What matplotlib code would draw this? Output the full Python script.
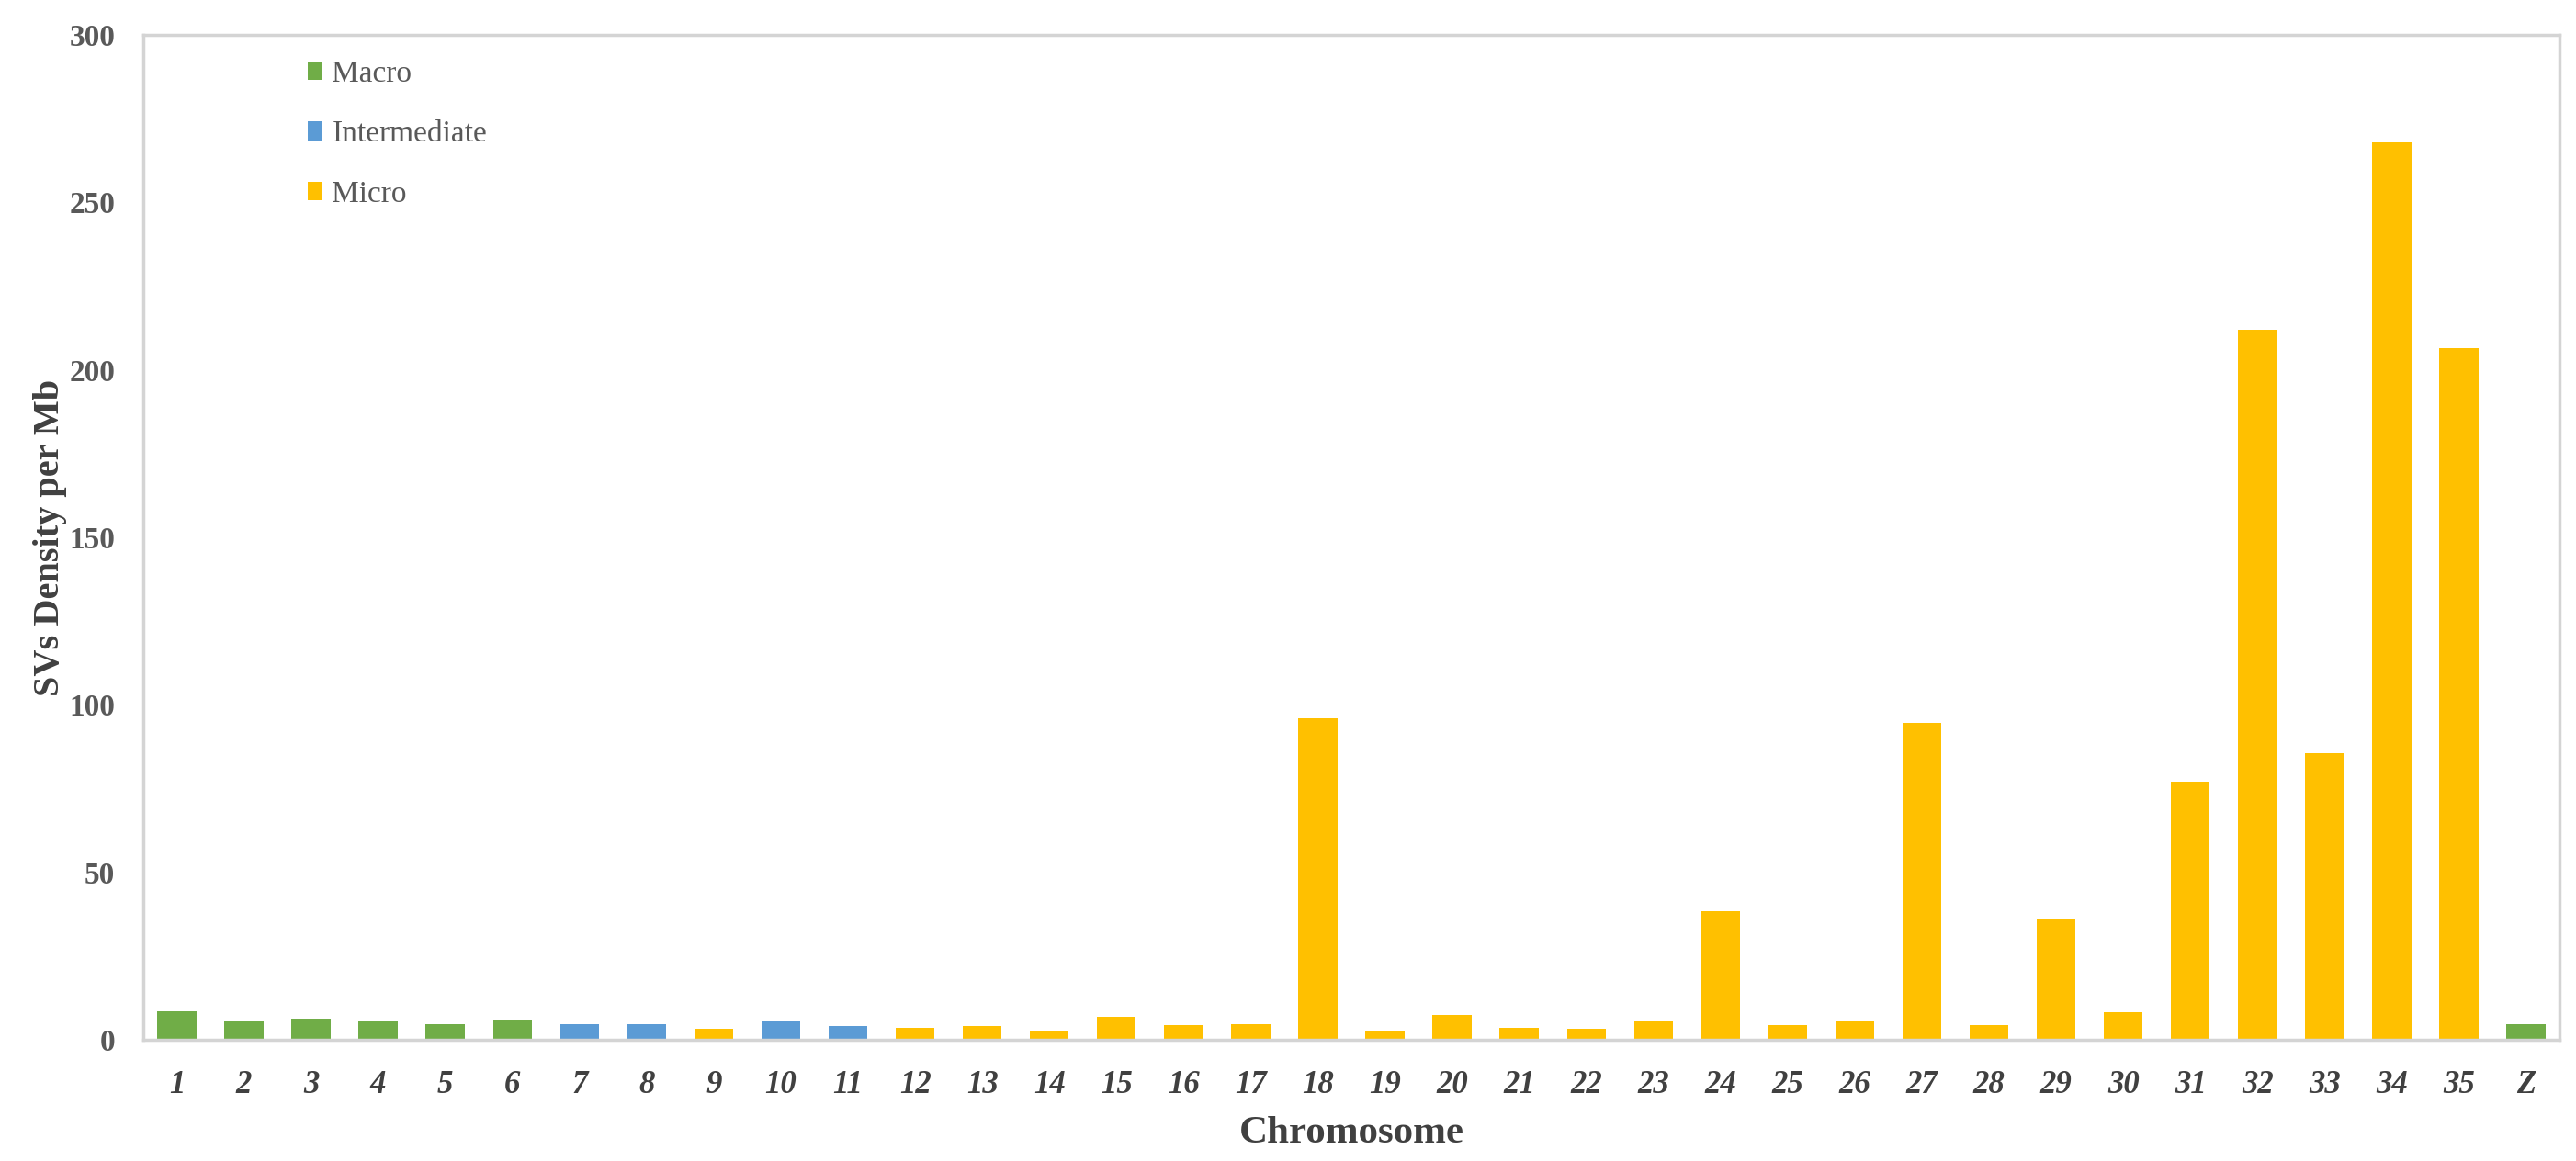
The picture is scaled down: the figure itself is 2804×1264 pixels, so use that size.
import numpy as np
import matplotlib
matplotlib.use("Agg")
import matplotlib.pyplot as plt

chromosomes = [str(i) for i in range(1, 36)] + ["Z"]
density = [8.6, 5.4, 6.4, 5.4, 4.8, 5.9, 4.8, 4.8, 3.4, 5.4,
           4.2, 3.7, 4.1, 2.8, 6.9, 4.5, 4.6, 96, 2.8, 7.3,
           3.7, 3.4, 5.4, 38.5, 4.5, 5.4, 94.5, 4.5, 36, 8.1,
           77, 212, 85.5, 268, 206.5, 4.8]
group = (["Macro"] * 6 + ["Intermediate"] * 2 + ["Micro"] + ["Intermediate"] * 2
         + ["Micro"] * 24 + ["Macro"])
group_names = ["Macro", "Intermediate", "Micro"]
group_colors = {"Macro": "#70AD47", "Intermediate": "#5B9BD5", "Micro": "#FFC000"}

plt.rcParams["font.family"] = ["Liberation Serif", "DejaVu Serif"]

fig = plt.figure(figsize=(28.04, 12.64), dpi=100)
ax = fig.add_axes([0.0556, 0.1044, 0.938, 0.8656])

x = np.arange(len(chromosomes))
density = np.array(density)
group = np.array(group)
for g in group_names:
    m = group == g
    ax.bar(x[m], density[m], width=0.58, color=group_colors[g], label=g, zorder=2)

ax.set_xlim(-0.5, len(chromosomes) - 0.5)
ax.set_ylim(0, 300)
ax.set_yticks(np.arange(0, 301, 50))
ax.set_xticks(x)
ax.set_xticklabels(chromosomes, fontsize=25, fontweight="bold", fontstyle="italic", color="#404040")
for lbl in ax.get_yticklabels():
    lbl.set_fontsize(24)
    lbl.set_fontweight("bold")
    lbl.set_color("#595959")
ax.tick_params(axis="x", length=0, pad=24)
ax.tick_params(axis="y", length=0, pad=22)

for s in ax.spines.values():
    s.set_color("#D4D4D4")
    s.set_linewidth(2.5)

ax.set_xlabel("Chromosome", fontsize=31, fontweight="bold", color="#404040", labelpad=12)
ax.set_ylabel("SVs Density per Mb", fontsize=29, fontweight="bold", color="#404040", labelpad=2)

leg = ax.legend(loc="upper left", bbox_to_anchor=(0.068, 0.975), frameon=False,
                fontsize=24, handlelength=0.5, handleheight=0.55, handletextpad=0.3,
                labelspacing=1.05, borderpad=0, borderaxespad=0)
for t in leg.get_texts():
    t.set_color("#595959")

fig.savefig("out.png", dpi=100, facecolor="white")
